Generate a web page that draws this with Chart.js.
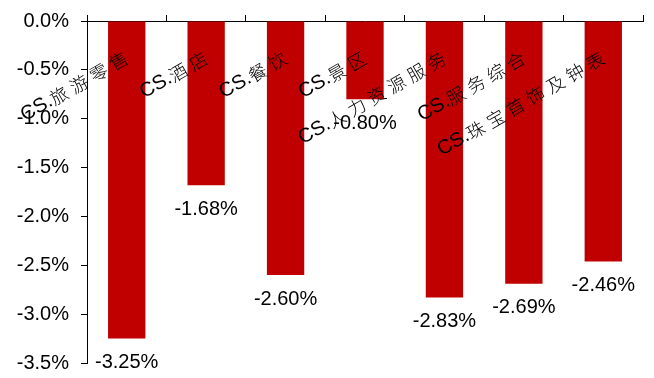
<!DOCTYPE html>
<html>
<head>
<meta charset="utf-8">
<script src="https://cdn.jsdelivr.net/npm/chart.js@4/dist/chart.umd.min.js"></script>
<style>
  html, body { margin: 0; padding: 0; background: #fff; }
  #wrap { width: 654px; height: 378px; }
</style>
</head>
<body>
<div id="wrap"><canvas id="c" width="654" height="378"></canvas></div>
<script>
// Sector returns (%)
const categories = ['CS.旅游零售', 'CS.酒店', 'CS.餐饮', 'CS.景区', 'CS.人力资源服务', 'CS.服务综合', 'CS.珠宝首饰及钟表'];
const values = [-3.25, -1.68, -2.60, -0.80, -2.83, -2.69, -2.46];
const yMin = -3.5;
const yMax = 0;
const yStep = 0.5;

const BAR_COLOR = '#C00000';
const LATIN_FONT = '"Liberation Sans", Arial, sans-serif';
const CJK_FONT = '"Noto Sans CJK SC", sans-serif';

// Rotated category names hanging just under the zero line, ending at each category centre
const categoryLabels = {
  id: 'categoryLabels',
  afterDatasetsDraw(chart) {
    const ctx = chart.ctx;
    const x = chart.scales.x;
    const top = chart.chartArea.top;
    ctx.save();
    categories.forEach((name, i) => {
      const prefix = name.slice(0, 3);
      const rest = name.slice(3);
      ctx.font = '20px ' + LATIN_FONT;
      ctx.letterSpacing = '0px';
      const w1 = ctx.measureText(prefix).width;
      ctx.font = '300 18px ' + CJK_FONT;
      ctx.letterSpacing = '5px';
      const w2 = ctx.measureText(rest).width;
      const total = w1 + w2;
      ctx.save();
      ctx.translate(x.getPixelForValue(i) + 4, top + 33);
      ctx.rotate(-30 * Math.PI / 180);
      ctx.fillStyle = '#000';
      ctx.textAlign = 'left';
      ctx.textBaseline = 'middle';
      ctx.font = '20px ' + LATIN_FONT;
      ctx.letterSpacing = '0px';
      ctx.fillText(prefix, -total, 0);
      ctx.font = '300 18px ' + CJK_FONT;
      ctx.letterSpacing = '5px';
      ctx.fillText(rest, -total + w1, 0);
      ctx.restore();
    });
    ctx.restore();
  }
};

// Value labels under each bar end
const valueLabels = {
  id: 'valueLabels',
  afterDatasetsDraw(chart) {
    const ctx = chart.ctx;
    const meta = chart.getDatasetMeta(0);
    ctx.save();
    ctx.font = '20px ' + LATIN_FONT;
    ctx.fillStyle = '#000';
    ctx.textAlign = 'center';
    ctx.textBaseline = 'middle';
    meta.data.forEach((bar, i) => {
      ctx.fillText(values[i].toFixed(2) + '%', bar.x, bar.y + 24);
    });
    ctx.restore();
  }
};

new Chart(document.getElementById('c'), {
  type: 'bar',
  data: {
    labels: categories,
    datasets: [{
      data: values,
      backgroundColor: BAR_COLOR,
      borderWidth: 0,
      categoryPercentage: 1,
      barPercentage: 0.47
    }]
  },
  options: {
    responsive: false,
    animation: false,
    devicePixelRatio: 1,
    layout: { padding: { left: 0, right: 11, top: 0, bottom: 15 } },
    plugins: {
      legend: { display: false },
      tooltip: { enabled: false }
    },
    scales: {
      x: {
        type: 'category',
        position: 'top',
        offset: true,
        grid: {
          offset: true,
          drawOnChartArea: false,
          drawTicks: true,
          tickLength: 6,
          color: '#000'
        },
        border: { color: '#000', width: 1 },
        ticks: { display: false },
        afterFit(scale) { scale.height = 21; }
      },
      y: {
        min: yMin,
        max: yMax,
        ticks: {
          stepSize: yStep,
          color: '#000',
          font: { family: LATIN_FONT, size: 20 },
          padding: 12,
          callback: (v) => (Math.abs(v) < 1e-9 ? 0 : v).toFixed(1) + '%'
        },
        grid: {
          drawOnChartArea: false,
          drawTicks: true,
          tickLength: 6,
          color: '#000'
        },
        border: { color: '#000', width: 1 },
        afterFit(scale) {
          scale.width = 87;
          scale.paddingTop = 0;
          scale.paddingBottom = 0;
        }
      }
    }
  },
  plugins: [categoryLabels, valueLabels]
});
</script>
</body>
</html>
